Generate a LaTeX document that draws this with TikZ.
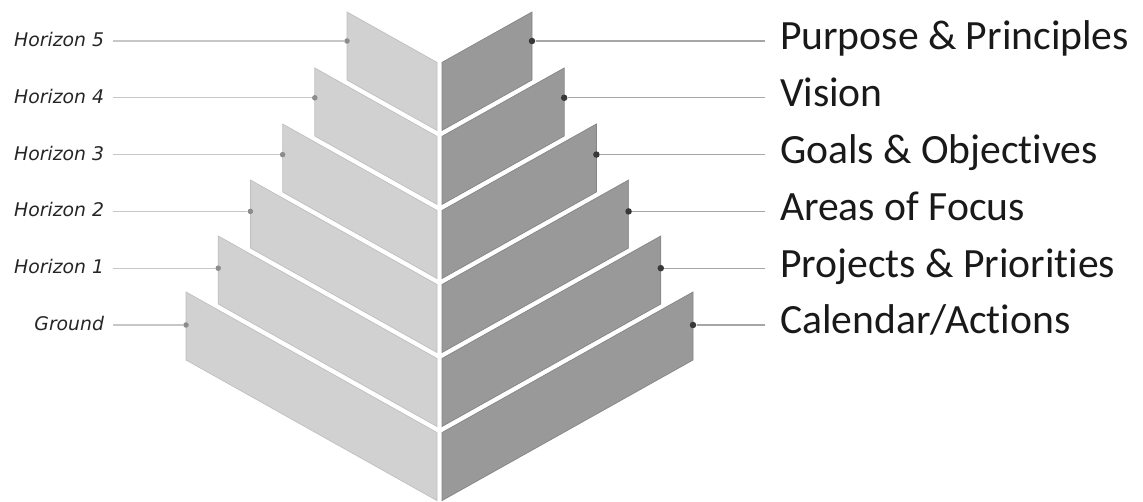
\documentclass[tikz,border=0pt]{standalone}
\usepackage{fontspec}
\setmainfont{DejaVu Sans}[ItalicFont={DejaVu Sans Oblique}]
\newfontfamily\calibrifont{Carlito}[Ligatures=NoCommon]

\begin{document}
\begin{tikzpicture}[
    x=0.02cm, y=-0.02cm,
    lface/.style={fill=black!18, draw=black!25, line width=0.4pt},
    rface/.style={fill=black!40, draw=black!48, line width=0.4pt},
    lpin/.style={circle, fill=black!45, inner sep=0pt, minimum size=0.11cm},
    rpin/.style={circle, fill=black!78, inner sep=0pt, minimum size=0.13cm},
    horizon/.style={anchor=base east, inner sep=0pt, outer xsep=0.18cm, text=black!85, font=\fontsize{10.7}{12}\selectfont\itshape},
    focus/.style={anchor=base west, inner sep=0pt, outer xsep=0.3cm, text=black!90, font=\calibrifont\fontsize{23.7}{26}\selectfont},
    lleader/.style={draw=black!22, line width=0.6pt},
    rleader/.style={draw=black!35, line width=0.6pt}
]

\useasboundingbox (0,0) rectangle (1143,502);

% Steps, left faces
\fill[lface] (347,12) -- ++(90,50.4) -- ++(0,68) -- ++(-90,-50.4) -- cycle;
\fill[lface] (314.8,68) -- ++(122.2,68.4) -- ++(0,68) -- ++(-122.2,-68.4) -- cycle;
\fill[lface] (282.6,124) -- ++(154.4,86.5) -- ++(0,68) -- ++(-154.4,-86.5) -- cycle;
\fill[lface] (250.4,180) -- ++(186.6,104.5) -- ++(0,68) -- ++(-186.6,-104.5) -- cycle;
\fill[lface] (218.2,236) -- ++(218.8,122.5) -- ++(0,68) -- ++(-218.8,-122.5) -- cycle;
\fill[lface] (186,292) -- ++(251,140.6) -- ++(0,68) -- ++(-251,-140.6) -- cycle;

% Steps, right faces
\fill[rface] (532,12) -- ++(-90,50.4) -- ++(0,68) -- ++(90,-50.4) -- cycle;
\fill[rface] (564.2,68) -- ++(-122.2,68.4) -- ++(0,68) -- ++(122.2,-68.4) -- cycle;
\fill[rface] (596.4,124) -- ++(-154.4,86.5) -- ++(0,68) -- ++(154.4,-86.5) -- cycle;
\fill[rface] (628.6,180) -- ++(-186.6,104.5) -- ++(0,68) -- ++(186.6,-104.5) -- cycle;
\fill[rface] (660.8,236) -- ++(-218.8,122.5) -- ++(0,68) -- ++(218.8,-122.5) -- cycle;
\fill[rface] (693,292) -- ++(-251,140.6) -- ++(0,68) -- ++(251,-140.6) -- cycle;

% Pins on the left edges
\node[lpin] (h5pin) at (347,41) {};
\node[lpin] (h4pin) at (314.8,97.8) {};
\node[lpin] (h3pin) at (282.6,154.6) {};
\node[lpin] (h2pin) at (250.4,211.4) {};
\node[lpin] (h1pin) at (218.2,268.2) {};
\node[lpin] (h0pin) at (186,325) {};

% Pins on the right edges
\node[rpin] (purposepin) at (532,41) {};
\node[rpin] (visionpin) at (564.2,97.8) {};
\node[rpin] (goalspin) at (596.4,154.6) {};
\node[rpin] (areaspin) at (628.6,211.4) {};
\node[rpin] (projectspin) at (660.8,268.2) {};
\node[rpin] (calendarpin) at (693,325) {};

% Horizon labels
\node[horizon] (h5) at (113,46.5) {Horizon 5};
\node[horizon] (h4) at (113,103.3) {Horizon 4};
\node[horizon] (h3) at (113,160.1) {Horizon 3};
\node[horizon] (h2) at (113,216.9) {Horizon 2};
\node[horizon] (h1) at (113,273.7) {Horizon 1};
\node[horizon] (h0) at (113,330.5) {Ground};

% Focus labels
\node[focus] (purpose) at (765,50) {Purpose \& Principles};
\node[focus] (vision) at (765,106.8) {Vision};
\node[focus] (goals) at (765,163.6) {Goals \& Objectives};
\node[focus] (areas) at (765,220.4) {Areas of Focus};
\node[focus] (projects) at (765,277.2) {Projects \& Priorities};
\node[focus] (calendar) at (765,334) {Calendar/Actions};

% Leaders, left
\draw[lleader] (h5.east |- h5pin) -- (h5pin);
\draw[lleader] (h4.east |- h4pin) -- (h4pin);
\draw[lleader] (h3.east |- h3pin) -- (h3pin);
\draw[lleader] (h2.east |- h2pin) -- (h2pin);
\draw[lleader] (h1.east |- h1pin) -- (h1pin);
\draw[lleader] (h0.east |- h0pin) -- (h0pin);

% Leaders, right
\draw[rleader] (purposepin) -- (purpose.west |- purposepin);
\draw[rleader] (visionpin) -- (vision.west |- visionpin);
\draw[rleader] (goalspin) -- (goals.west |- goalspin);
\draw[rleader] (areaspin) -- (areas.west |- areaspin);
\draw[rleader] (projectspin) -- (projects.west |- projectspin);
\draw[rleader] (calendarpin) -- (calendar.west |- calendarpin);

\end{tikzpicture}
\end{document}
